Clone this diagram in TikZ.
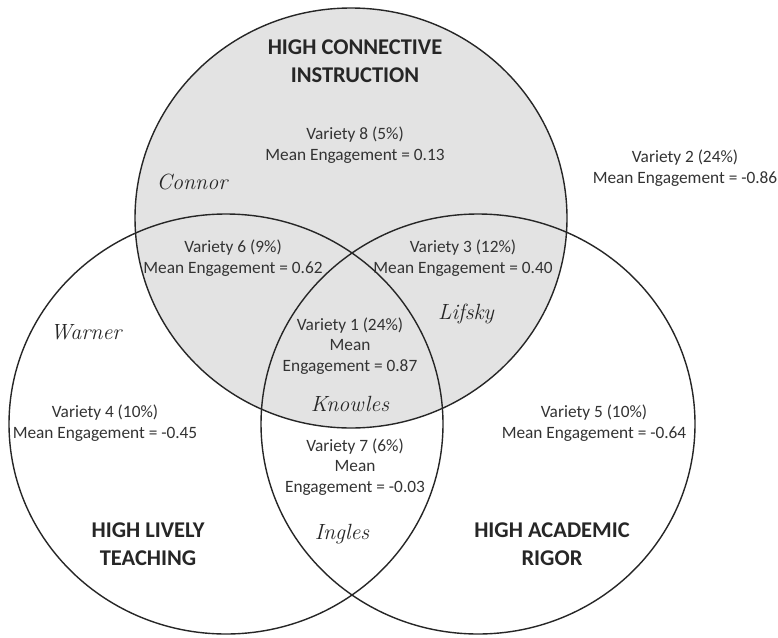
\documentclass[tikz,border=0pt]{standalone}
\usepackage{fontspec}
\newfontfamily\carl{Carlito}
\tikzset{
  ring/.style={draw=black!85, line width=1.4pt},
  lbl/.style={font=\carl\fontsize{17.3}{20.5}\selectfont, text=black!80, align=center, inner sep=0pt},
  head/.style={font=\carl\bfseries\fontsize{22.5}{28}\selectfont, text=black!85, align=center, inner sep=0pt},
  nm/.style={font=\itshape\fontsize{22}{24}\selectfont, text=black!85, inner sep=0pt}
}
\begin{document}
\begin{tikzpicture}[x=1pt,y=-1pt]
\useasboundingbox (0,0) rectangle (778,637);
\fill[white] (0,0) rectangle (778,637);
\coordinate (ct) at (351,218);
\coordinate (cl) at (226,424);
\coordinate (cr) at (478,424);
\fill[black!11] (ct) ellipse [x radius=216, y radius=210];
\draw[ring] (ct) ellipse [x radius=216, y radius=210];
\draw[ring] (cl) ellipse [x radius=217, y radius=210];
\draw[ring] (cr) ellipse [x radius=217, y radius=210];

\node[head] (h1) at (355,61) {HIGH CONNECTIVE\\INSTRUCTION};
\node[head] (h2) at (148,544) {HIGH LIVELY\\TEACHING};
\node[head] (h3) at (552,544) {HIGH ACADEMIC\\RIGOR};

\node[lbl] (v8) at (355,145) {Variety 8 (5\%)\\Mean Engagement = 0.13};
\node[lbl] (v2) at (685,168) {Variety 2 (24\%)\\Mean Engagement = -0.86};
\node[lbl] (v6) at (233,258) {Variety 6 (9\%)\\Mean Engagement = 0.62};
\node[lbl] (v3) at (463,258) {Variety 3 (12\%)\\Mean Engagement = 0.40};
\node[lbl] (v1) at (350,346) {Variety 1 (24\%)\\Mean\\Engagement = 0.87};
\node[lbl] (v4) at (105,423) {Variety 4 (10\%)\\Mean Engagement = -0.45};
\node[lbl] (v5) at (594,423) {Variety 5 (10\%)\\Mean Engagement = -0.64};
\node[lbl] (v7) at (355,467) {Variety 7 (6\%)\\Mean\\Engagement = -0.03};

\node[nm] (connor) at (192,182) {Connor};
\node[nm] (warner) at (86,332) {Warner};
\node[nm] (lifsky) at (466,314) {Lifsky};
\node[nm] (knowles) at (350,404) {Knowles};
\node[nm] (ingles) at (342,534) {Ingles};
\end{tikzpicture}
\end{document}
